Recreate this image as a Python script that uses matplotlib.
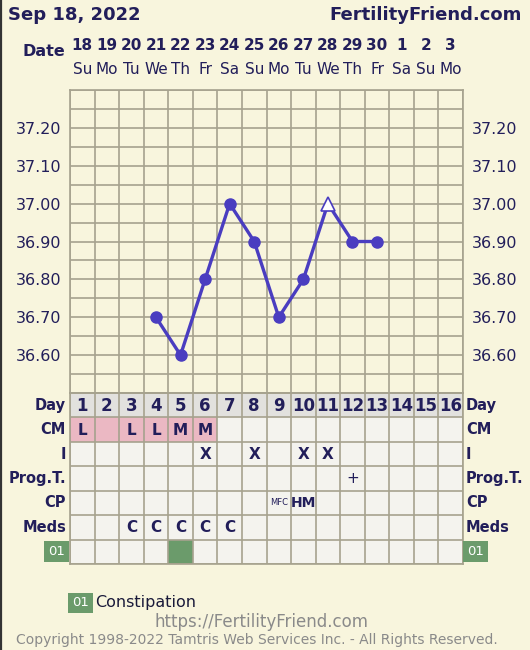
import matplotlib.pyplot as plt
import numpy as np

# chart data
title_date = "Sep 18, 2022"
days = list(range(1, 17))
dates = [18, 19, 20, 21, 22, 23, 24, 25, 26, 27, 28, 29, 30, 1, 2, 3]
weekdays = ["Su", "Mo", "Tu", "We", "Th", "Fr", "Sa", "Su", "Mo", "Tu", "We", "Th", "Fr", "Sa", "Su", "Mo"]
temp_days = [4, 5, 6, 7, 8, 9, 10, 11, 12, 13]
temps = [36.70, 36.60, 36.80, 37.00, 36.90, 36.70, 36.80, 37.00, 36.90, 36.90]
open_days = [11]  # drawn as open triangle
temp_ticks = [36.60, 36.70, 36.80, 36.90, 37.00, 37.10, 37.20]

row_labels = ["Day", "CM", "I", "Prog.T.", "CP", "Meds", "01"]
cm = ["L", "", "L", "L", "M", "M"] + [""] * 10
intercourse = {6: "X", 8: "X", 10: "X", 11: "X"}
prog_t = {12: "+"}
cp = {9: "MFC", 10: "HM"}
meds = {3: "C", 4: "C", 5: "C", 6: "C", 7: "C"}
symptom_days = [5]
symptom_legend = ("01", "Constipation")

BG = "#F8F5DD"
GRID = "#A6A28E"
NAVY = "#221E5A"
LINE = "#4A3DC0"
CELL = "#F4F3EE"
DAYBG = "#E2E1DE"
PINK = "#EBB8C3"
GREEN = "#6B9B6B"
GRAY = "#8A8A8A"

W, H = 530, 650
fig = plt.figure(figsize=(W / 100, H / 100), dpi=100, facecolor=BG)


def fx(x):
    return x / W


def fy(y):
    return 1 - y / H


# border on the left
fig.add_artist(plt.Line2D([fx(1), fx(1)], [0, 1], color="#333333", lw=1.6))

# header
fig.text(fx(8), fy(15), title_date, fontsize=13, fontweight="bold", color=NAVY, va="center")
fig.text(fx(522), fy(15), "FertilityFriend.com", fontsize=13, fontweight="bold",
         color=NAVY, va="center", ha="right")
fig.text(fx(65), fy(51), "Date", fontsize=11.5, fontweight="bold", color=NAVY,
         va="center", ha="right")

gx0, gx1 = 70, 463
colw = (gx1 - gx0) / 16
for d, dt, wd in zip(days, dates, weekdays):
    cx = gx0 + colw * (d - 0.5)
    fig.text(fx(cx), fy(45), str(dt), fontsize=11, fontweight="bold", color=NAVY,
             ha="center", va="center")
    fig.text(fx(cx), fy(70), wd, fontsize=11, color=NAVY, ha="center", va="center")

# temperature chart
ax = fig.add_axes([fx(gx0), fy(393), (gx1 - gx0) / W, (393 - 90) / H])
ax.set_facecolor(BG)
ax.set_xlim(0.5, 16.5)
ax.set_ylim(36.5, 37.3)
ax.set_xticks(np.arange(0.5, 16.6, 1))
ax.set_xticklabels([])
ax.set_yticks(temp_ticks)
ax.set_yticklabels([f"{t:.2f}" for t in temp_ticks])
ax.set_yticks(np.arange(36.5, 37.31, 0.05), minor=True)
ax.grid(True, which="both", color=GRID, lw=1.2)
ax.tick_params(which="both", length=0, labelleft=True, labelright=True,
               labelsize=11.5, labelcolor=NAVY, pad=6)
for s in ax.spines.values():
    s.set_color(GRID)
    s.set_linewidth(1.2)
ax.set_axisbelow(True)

ax.plot(temp_days, temps, color=LINE, lw=2.4, zorder=3)
closed_x = [d for d in temp_days if d not in open_days]
closed_y = [t for d, t in zip(temp_days, temps) if d not in open_days]
open_y = [t for d, t in zip(temp_days, temps) if d in open_days]
ax.plot(closed_x, closed_y, "o", color=LINE, ms=8, zorder=4)
ax.plot(open_days, open_y, "^", mfc="white", mec=LINE, mew=1.2, ms=10, zorder=4)

# table
tb = fig.add_axes([fx(gx0), fy(564), (gx1 - gx0) / W, (564 - 393) / H])
tb.set_xlim(0.5, 16.5)
tb.set_ylim(7, 0)
nrows = len(row_labels)
for r in range(nrows):
    colors = []
    for d in days:
        if r == 0:
            colors.append(DAYBG)
        elif r == 1 and d <= 6:
            colors.append(PINK)
        elif r == 6 and d in symptom_days:
            colors.append(GREEN)
        else:
            colors.append(CELL)
    tb.bar(days, 1, bottom=r, width=1, color=colors, align="center", zorder=1)
tb.set_xticks(np.arange(0.5, 16.6, 1))
tb.set_yticks(np.arange(0, 7.1, 1))
tb.set_xticklabels([])
tb.set_yticklabels([])
tb.grid(True, color=GRID, lw=1.2, zorder=2)
tb.set_axisbelow(False)
tb.tick_params(length=0)
for s in tb.spines.values():
    s.set_color(GRID)
    s.set_linewidth(1.2)

kw = dict(ha="center", va="center", color=NAVY, zorder=5)
for d in days:
    tb.text(d, 0.52, str(d), fontsize=12, fontweight="bold", **kw)
for d, v in zip(days, cm):
    if v:
        tb.text(d, 1.52, v, fontsize=11, fontweight="bold", **kw)
for d, v in intercourse.items():
    tb.text(d, 2.52, v, fontsize=11, fontweight="bold", **kw)
for d, v in prog_t.items():
    tb.text(d, 3.5, v, fontsize=11, **kw)
for d, v in cp.items():
    if v == "MFC":
        tb.text(d, 4.5, v, fontsize=6, **kw)
    else:
        tb.text(d, 4.52, v, fontsize=10, fontweight="bold", **kw)
for d, v in meds.items():
    tb.text(d, 5.52, v, fontsize=11, fontweight="bold", **kw)

# row labels
for r, lab in enumerate(row_labels):
    yc = 393 + (r + 0.5) * (564 - 393) / 7
    if lab == "01":
        for x, ha in ((65, "right"), (467, "left")):
            fig.text(fx(x), fy(yc), lab, fontsize=9.5, color="white", ha=ha, va="center",
                     bbox=dict(boxstyle="square,pad=0.3", fc=GREEN, ec="none"))
    else:
        fig.text(fx(66), fy(yc), lab, fontsize=10.5, fontweight="bold", color=NAVY,
                 ha="right", va="center")
        fig.text(fx(466), fy(yc), lab, fontsize=10.5, fontweight="bold", color=NAVY,
                 ha="left", va="center")

# legend + footer
fig.text(fx(72), fy(603), symptom_legend[0], fontsize=9.5, color="white", ha="left",
         va="center", bbox=dict(boxstyle="square,pad=0.3", fc=GREEN, ec="none"))
fig.text(fx(95), fy(602), symptom_legend[1], fontsize=11.5, color="#1A1A3A", va="center")
fig.text(fx(262), fy(622), "https://FertilityFriend.com", fontsize=12, color=GRAY,
         ha="center", va="center")
fig.text(fx(257), fy(640), "Copyright 1998-2022 Tamtris Web Services Inc. - All Rights Reserved.",
         fontsize=10, color=GRAY, ha="center", va="center")

fig.savefig("out.png", dpi=100, facecolor=BG)
